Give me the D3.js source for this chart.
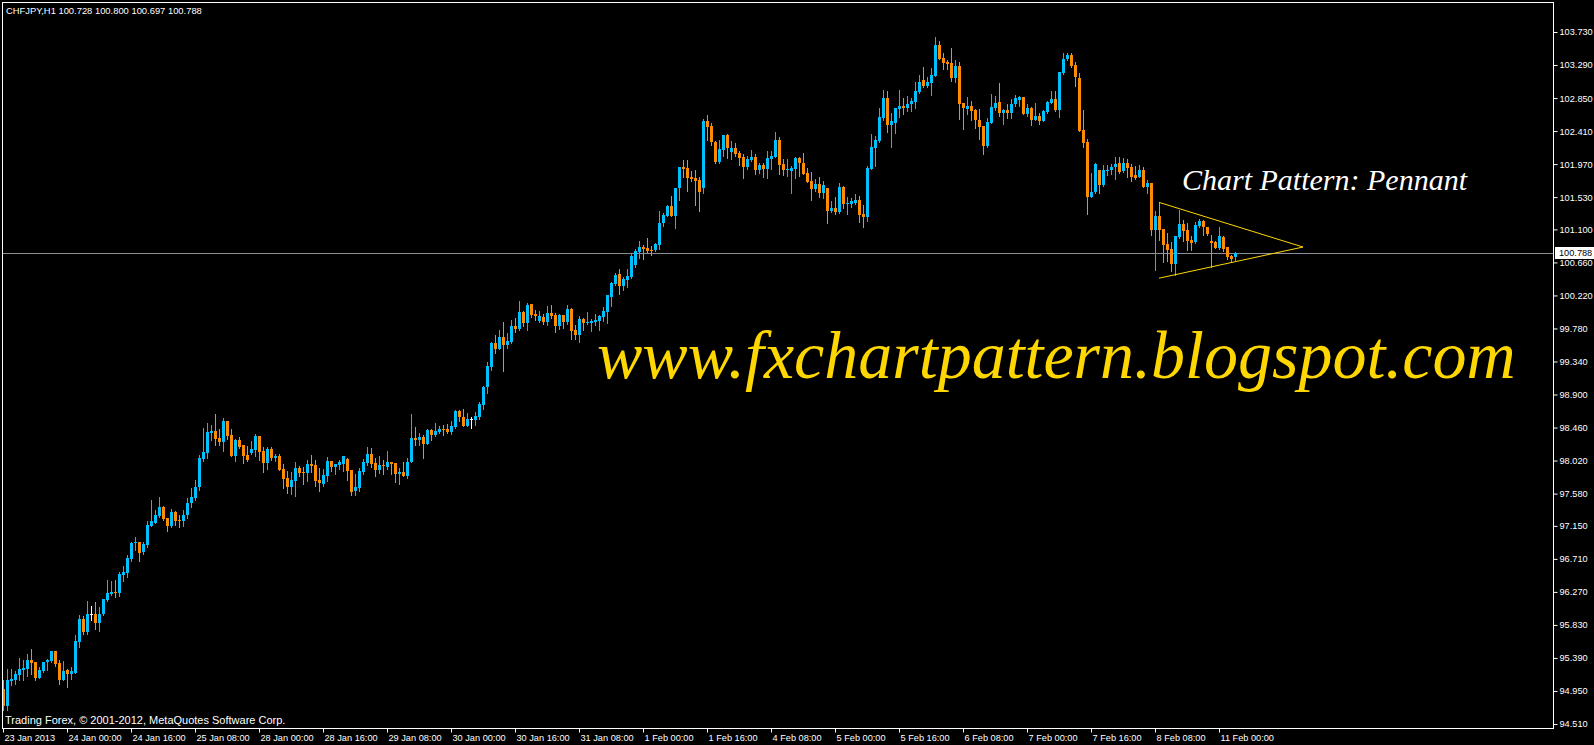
<!DOCTYPE html>
<html><head><meta charset="utf-8">
<script src="https://cdn.jsdelivr.net/npm/d3@7"></script>
<style>html,body{margin:0;padding:0;background:#000;overflow:hidden}</style>
</head><body>
<svg id="c" width="1594" height="745"></svg>
<script>
// ---- DATA (CHFJPY H1, 23 Jan 2013 08:00 → 11 Feb 2013 04:00) ----
const opens = [94.98,94.75,95.08,95.10,95.16,95.23,95.24,95.36,95.34,95.12,95.22,95.33,95.35,95.48,95.32,95.10,95.23,95.18,95.19,95.60,
95.91,95.74,95.98,95.98,95.86,95.97,96.16,96.24,96.27,96.26,96.50,96.52,96.71,96.92,96.93,96.80,96.90,97.15,97.19,97.28,
97.40,97.25,97.15,97.33,97.23,97.21,97.30,97.45,97.52,97.67,98.04,98.12,98.39,98.41,98.32,98.27,98.55,98.36,98.08,98.29,
98.23,98.09,98.12,98.16,98.35,98.15,97.99,98.17,98.05,98.08,97.91,97.79,97.67,97.75,97.92,97.87,97.85,97.97,97.96,97.76,
97.71,97.81,98.01,97.93,97.96,97.97,98.04,97.89,97.61,97.66,97.87,97.99,98.11,97.99,97.89,97.96,97.94,98.00,97.99,97.84,
97.87,97.82,98.00,98.32,98.29,98.33,98.24,98.43,98.36,98.40,98.44,98.44,98.40,98.47,98.68,98.60,98.48,98.57,98.56,98.60,
98.76,99.00,99.27,99.59,99.51,99.67,99.56,99.60,99.81,99.77,100.00,99.85,100.11,99.97,99.88,99.93,99.87,99.99,99.96,99.81,
99.96,99.87,100.04,99.76,99.69,99.91,99.85,99.85,99.87,99.88,99.93,100.00,100.20,100.37,100.50,100.35,100.43,100.47,100.63,100.80,
100.87,100.85,100.83,100.82,100.89,101.18,101.28,101.41,101.28,101.65,101.93,101.92,101.80,101.78,101.76,101.65,102.54,102.48,102.26,102.00,
102.16,102.36,102.13,102.18,102.12,102.06,101.93,102.03,102.06,101.89,101.96,101.90,102.04,102.07,102.29,101.97,101.89,101.88,101.90,102.05,
101.99,101.85,101.74,101.64,101.71,101.58,101.65,101.35,101.39,101.33,101.67,101.44,101.44,101.45,101.49,101.30,101.26,101.90,102.19,102.28,
102.58,102.85,102.49,102.52,102.71,102.75,102.72,102.77,102.80,102.93,103.09,103.01,103.05,103.14,103.56,103.38,103.33,103.32,103.12,103.28,
102.78,102.71,102.74,102.69,102.56,102.48,102.21,102.52,102.72,102.80,102.65,102.69,102.65,102.77,102.83,102.86,102.64,102.72,102.56,102.61,
102.54,102.67,102.79,102.84,102.69,103.18,103.37,103.42,103.29,103.12,102.42,102.26,101.53,101.60,101.89,101.69,101.88,101.89,101.93,101.98,
101.88,101.99,101.93,101.82,101.80,101.89,101.66,101.72,101.09,101.28,101.10,100.90,100.84,100.64,101.00,101.17,101.09,100.96,100.93,101.15,
101.21,101.13,100.95,100.93,100.85,101.00,100.87,100.75,100.728];
const highs = [95.09,95.24,95.24,95.22,95.39,95.36,95.44,95.51,95.34,95.27,95.34,95.38,95.48,95.48,95.36,95.35,95.24,95.27,95.70,95.96,
95.95,96.15,96.08,96.13,96.07,96.18,96.43,96.41,96.43,96.53,96.61,96.76,96.93,97.00,96.93,96.93,97.21,97.49,97.36,97.53,
97.41,97.25,97.37,97.35,97.29,97.36,97.52,97.66,97.76,98.10,98.45,98.52,98.49,98.64,98.44,98.59,98.55,98.44,98.31,98.33,
98.23,98.21,98.28,98.37,98.35,98.20,98.20,98.20,98.11,98.11,97.97,97.88,97.87,98.00,97.95,97.93,98.03,98.09,98.03,97.92,
97.91,98.07,98.01,97.97,98.03,98.08,98.05,97.89,97.84,97.92,98.04,98.20,98.19,98.05,98.08,98.03,98.15,98.00,97.99,97.92,
98.00,98.05,98.64,98.47,98.39,98.36,98.44,98.44,98.52,98.48,98.49,98.51,98.55,98.69,98.69,98.71,98.65,98.60,98.67,98.80,
99.01,99.33,99.60,99.69,99.76,99.87,99.72,99.89,99.92,100.15,100.01,100.12,100.11,100.03,100.01,99.97,100.08,100.09,99.99,99.97,
99.96,100.09,100.05,99.83,99.95,99.92,100.00,99.91,99.97,99.96,100.07,100.23,100.40,100.52,100.57,100.47,100.57,100.77,100.84,100.95,
100.89,100.98,100.88,100.92,101.34,101.32,101.43,101.54,101.65,101.93,102.02,102.02,101.88,101.89,101.80,102.57,102.62,102.52,102.28,102.29,
102.36,102.37,102.28,102.25,102.14,102.10,102.08,102.16,102.10,101.98,101.98,102.15,102.15,102.40,102.33,102.04,102.04,101.94,102.06,102.06,
102.12,101.92,101.86,101.77,101.80,101.74,101.65,101.48,101.53,101.72,101.68,101.53,101.52,101.57,101.55,101.42,101.94,102.37,102.34,102.72,
102.96,102.94,102.65,102.72,102.96,102.85,102.88,102.85,103.06,103.16,103.26,103.13,103.25,103.66,103.61,103.45,103.36,103.52,103.36,103.33,
102.78,102.86,102.81,102.70,102.70,102.48,102.58,102.90,102.88,103.05,102.70,102.77,102.84,102.89,102.88,102.86,102.77,102.73,102.78,102.65,
102.69,102.81,102.94,102.94,103.20,103.45,103.45,103.45,103.33,103.18,102.69,102.30,101.85,101.98,101.89,101.96,101.96,101.97,102.06,102.06,
102.05,102.04,101.97,101.94,101.96,101.93,101.76,101.72,101.34,101.46,101.10,101.05,100.93,101.01,101.36,101.22,101.18,101.01,101.20,101.24,
101.22,101.13,101.02,100.94,101.13,101.01,100.87,100.76,100.800];
const lows = [94.70,94.70,95.03,95.04,95.10,95.10,95.15,95.18,95.09,95.12,95.20,95.23,95.34,95.28,95.04,95.09,95.00,95.11,95.19,95.54,
95.71,95.71,95.90,95.78,95.75,95.96,96.15,96.23,96.20,96.22,96.41,96.47,96.68,96.83,96.68,96.77,96.87,97.15,97.19,97.27,
97.23,97.08,97.13,97.16,97.13,97.15,97.26,97.40,97.50,97.63,98.02,98.06,98.29,98.23,98.23,98.15,98.31,98.08,98.01,98.19,
97.99,98.01,98.11,98.08,98.03,97.87,97.91,98.03,98.01,97.89,97.65,97.59,97.57,97.55,97.81,97.71,97.75,97.87,97.68,97.61,
97.68,97.75,97.88,97.84,97.91,97.88,97.76,97.56,97.56,97.62,97.84,97.96,97.93,97.81,97.85,97.84,97.91,97.84,97.74,97.71,
97.82,97.79,98.00,98.23,98.23,98.05,98.24,98.29,98.35,98.39,98.36,98.39,98.37,98.45,98.55,98.48,98.48,98.45,98.49,98.57,
98.71,98.92,99.23,99.45,99.51,99.21,99.52,99.59,99.73,99.76,99.81,99.76,99.93,99.89,99.87,99.84,99.83,99.92,99.73,99.77,
99.79,99.84,99.64,99.64,99.60,99.76,99.84,99.75,99.83,99.76,99.88,99.85,100.08,100.36,100.24,100.29,100.33,100.45,100.60,100.72,
100.71,100.80,100.76,100.81,100.84,101.15,101.28,101.28,101.12,101.49,101.80,101.61,101.74,101.42,101.35,101.58,102.29,102.22,101.98,101.98,
102.08,102.05,102.04,102.08,101.96,101.78,101.90,102.01,101.84,101.85,101.80,101.78,101.91,102.06,101.84,101.83,101.81,101.59,101.78,101.81,
101.84,101.73,101.49,101.61,101.53,101.52,101.18,101.33,101.31,101.32,101.39,101.30,101.40,101.44,101.20,101.13,101.21,101.90,101.94,102.26,
102.56,102.40,102.20,102.38,102.60,102.64,102.68,102.68,102.72,102.92,103.00,103.00,102.89,103.14,103.37,103.24,103.24,103.08,103.06,102.57,
102.44,102.64,102.56,102.45,102.31,102.11,102.20,102.52,102.69,102.61,102.50,102.58,102.58,102.74,102.74,102.64,102.61,102.49,102.56,102.50,
102.54,102.65,102.78,102.68,102.60,103.17,103.36,103.26,103.01,102.41,102.20,101.30,101.53,101.58,101.58,101.68,101.82,101.84,101.77,101.85,
101.86,101.80,101.75,101.77,101.80,101.66,101.58,101.03,100.56,100.96,100.67,100.68,100.55,100.49,100.99,100.95,100.83,100.83,100.92,101.13,
101.02,101.02,100.60,100.85,100.84,100.81,100.70,100.67,100.697];
const closes = [94.75,95.10,95.11,95.18,95.24,95.26,95.36,95.32,95.12,95.23,95.34,95.36,95.48,95.31,95.10,95.22,95.18,95.21,95.62,95.91,
95.74,95.98,95.98,95.86,95.98,96.18,96.26,96.27,96.26,96.51,96.53,96.72,96.92,96.93,96.79,96.91,97.16,97.21,97.29,97.40,
97.24,97.15,97.33,97.21,97.21,97.30,97.45,97.53,97.67,98.05,98.13,98.40,98.41,98.31,98.27,98.55,98.35,98.08,98.29,98.20,
98.08,98.03,98.17,98.35,98.13,97.99,98.17,98.05,98.08,97.89,97.77,97.67,97.76,97.92,97.85,97.85,97.97,97.95,97.75,97.72,
97.83,98.01,97.93,97.97,98.00,98.08,97.88,97.60,97.67,97.88,98.00,98.11,97.97,97.89,97.96,97.95,98.00,97.98,97.84,97.87,
97.82,98.00,98.32,98.29,98.33,98.24,98.43,98.36,98.41,98.44,98.43,98.40,98.48,98.68,98.60,98.48,98.57,98.57,98.61,98.77,
99.00,99.28,99.59,99.51,99.67,99.56,99.61,99.81,99.77,100.00,99.85,100.09,99.96,99.95,99.95,99.87,99.99,99.95,99.81,99.96,
99.87,100.04,99.75,99.69,99.91,99.85,99.87,99.88,99.89,99.95,100.01,100.23,100.39,100.49,100.35,100.44,100.48,100.75,100.81,100.86,
100.84,100.81,100.82,100.90,101.18,101.29,101.41,101.28,101.65,101.93,101.90,101.78,101.77,101.74,101.60,102.54,102.46,102.26,102.00,102.17,
102.36,102.18,102.18,102.10,102.05,101.93,102.04,102.06,101.89,101.96,101.90,102.05,102.08,102.29,101.96,101.89,101.90,101.92,102.05,101.98,
101.84,101.73,101.64,101.71,101.58,101.69,101.35,101.39,101.33,101.67,101.44,101.45,101.48,101.49,101.29,101.26,101.92,102.20,102.29,102.60,
102.85,102.49,102.54,102.72,102.75,102.72,102.77,102.81,102.94,103.06,103.01,103.06,103.16,103.56,103.37,103.32,103.30,103.12,103.28,102.77,
102.72,102.74,102.68,102.56,102.47,102.21,102.53,102.73,102.78,102.65,102.69,102.65,102.77,102.85,102.87,102.64,102.72,102.56,102.61,102.54,
102.68,102.80,102.84,102.69,103.20,103.37,103.42,103.28,103.13,102.41,102.25,101.53,101.60,101.97,101.69,101.89,101.89,101.93,101.97,101.86,
101.99,101.92,101.80,101.79,101.89,101.66,101.72,101.09,101.28,101.09,100.89,100.82,100.64,101.01,101.17,101.08,100.95,100.92,101.16,101.21,
101.13,101.04,100.92,100.85,101.01,100.84,100.73,100.71,100.788];

const priceTicks = [103.73,103.29,102.85,102.41,101.97,101.53,101.10,100.66,100.22,99.78,99.34,98.90,98.46,98.02,97.58,97.15,96.71,96.27,95.83,95.39,94.95,94.51];
const timeTickBars = [0,16,32,48,64,80,96,112,128,144,160,176,192,208,224,240,256,272,288,304];
const timeTickLabels = ["23 Jan 2013","24 Jan 00:00","24 Jan 16:00","25 Jan 08:00","28 Jan 00:00","28 Jan 16:00","29 Jan 08:00","30 Jan 00:00","30 Jan 16:00","31 Jan 08:00","1 Feb 00:00","1 Feb 16:00","4 Feb 08:00","5 Feb 00:00","5 Feb 16:00","6 Feb 08:00","7 Feb 00:00","7 Feb 16:00","8 Feb 08:00","11 Feb 00:00"];
const pennantUpper = [[289,101.46],[325,100.865]];
const pennantLower = [[289,100.45],[325,100.865]];
const headerText = "CHFJPY,H1  100.728 100.800 100.697 100.788";
const lastPrice = 100.788;
const watermark = "www.fxchartpattern.blogspot.com";
const patternTitle = "Chart Pattern: Pennant";
const copyright = "Trading Forex, \u00A9 2001-2012, MetaQuotes Software Corp.";

// ---- DRAW ----
const svg = d3.select("#c");
const P = {l:2, t:2, r:1553, b:728};
const N = closes.length;
const x = d3.scaleLinear().domain([0, N-1]).range([3, 3 + 4*(N-1)]);
const y = d3.scaleLinear().domain([94.51, 103.73]).range([724, 32]);
const sans = "'Liberation Sans', Arial, sans-serif";
const serif = "'Liberation Serif', 'Times New Roman', serif";
const UP = "#00bfff", DN = "#ff8c00";

svg.append("rect").attr("width",1594).attr("height",745).attr("fill","#000");

// current price line
svg.append("line").attr("x1",P.l).attr("x2",P.r)
  .attr("y1",Math.round(y(lastPrice))+0.5).attr("y2",Math.round(y(lastPrice))+0.5)
  .attr("stroke","#8c8f96").attr("stroke-width",1);

// candles
const idx = d3.range(N);
const colorOf = i => closes[i] > opens[i] ? UP : (closes[i] < opens[i] ? DN : "#ffffff");
const g = svg.append("g").attr("shape-rendering","crispEdges");
g.selectAll("rect.w").data(idx).join("rect").attr("class","w")
  .attr("x", i => Math.round(x(i)))
  .attr("y", i => Math.round(y(highs[i])))
  .attr("width", 1)
  .attr("height", i => Math.max(1, Math.round(y(lows[i])) - Math.round(y(highs[i])) + 1))
  .attr("fill", colorOf);
g.selectAll("rect.b").data(idx).join("rect").attr("class","b")
  .attr("x", i => Math.round(x(i)) - 1)
  .attr("y", i => Math.round(y(Math.max(opens[i], closes[i]))))
  .attr("width", 3)
  .attr("height", i => Math.max(1, Math.round(y(Math.min(opens[i], closes[i]))) - Math.round(y(Math.max(opens[i], closes[i])))))
  .attr("fill", colorOf);

// pennant lines
const ln = d3.line().x(d => x(d[0])).y(d => y(d[1]));
[pennantUpper, pennantLower].forEach(seg => {
  svg.append("path").attr("d", ln(seg)).attr("fill","none").attr("stroke","#ffd700").attr("stroke-width",1);
});

// border
svg.append("rect").attr("x",P.l+0.5).attr("y",P.t+0.5).attr("width",P.r-P.l).attr("height",P.b-P.t)
  .attr("fill","none").attr("stroke","#fff").attr("stroke-width",1);

// y axis
const yAxis = svg.append("g").attr("transform",`translate(${P.r+0.5},0)`)
  .call(d3.axisRight(y).tickValues(priceTicks).tickSize(4).tickPadding(2).tickFormat(d => d.toFixed(3)));
yAxis.select(".domain").remove();
yAxis.selectAll("line").attr("stroke","#fff");
yAxis.selectAll("text").attr("fill","#fff").style("font-family",sans).style("font-size","9.2px");

// last price box
const ly = y(lastPrice);
svg.append("rect").attr("x",1555).attr("y",Math.round(ly)-6).attr("width",39).attr("height",12).attr("fill","#fff");
svg.append("text").attr("x",1559).attr("y",ly).attr("dy","0.35em").attr("fill","#000")
  .style("font-family",sans).style("font-size","9.2px").text(lastPrice.toFixed(3));

// x axis
const xAxis = svg.append("g").attr("transform",`translate(0,${P.b+0.5})`)
  .call(d3.axisBottom(x).tickValues(timeTickBars).tickSize(4).tickFormat((d,i) => timeTickLabels[i]));
xAxis.select(".domain").remove();
xAxis.selectAll("line").attr("stroke","#fff");
xAxis.selectAll("text").attr("fill","#fff").attr("text-anchor","start").attr("x",1).attr("y",12.5).attr("dy",0)
  .style("font-family",sans).style("font-size","9.2px");

// header & copyright
svg.append("text").attr("x",6).attr("y",14).attr("fill","#fff")
  .style("font-family",sans).style("font-size","9.4px").text(headerText);
svg.append("text").attr("x",5).attr("y",724).attr("fill","#fff")
  .style("font-family",sans).style("font-size","11px").text(copyright);

// annotations
svg.append("text").attr("x",1182).attr("y",190).attr("fill","#fff")
  .style("font-family",serif).style("font-style","italic").style("font-size","30px").text(patternTitle);
svg.append("text").attr("x",597).attr("y",378).attr("fill","#ffd700")
  .style("font-family",serif).style("font-style","italic").style("font-size","68px").text(watermark);
</script>
</body></html>
